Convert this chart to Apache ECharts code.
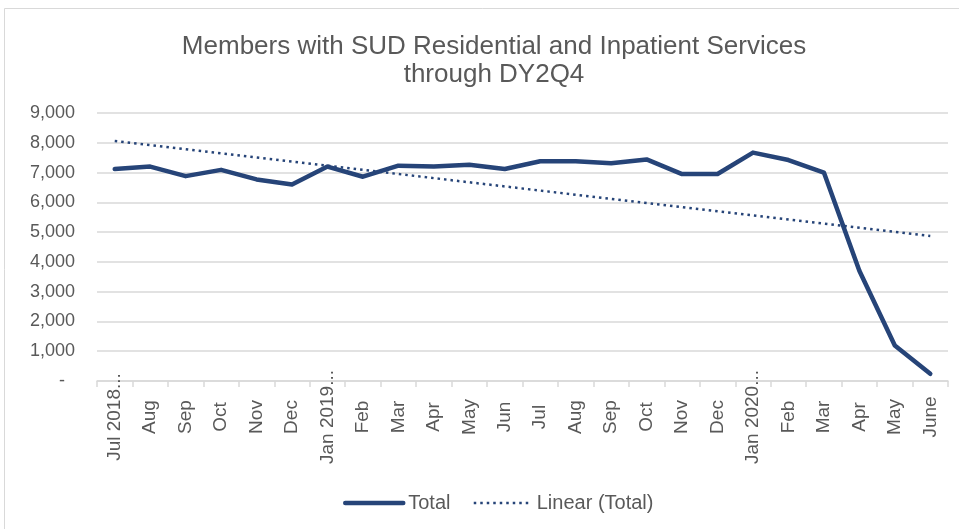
<!DOCTYPE html>
<html>
<head>
<meta charset="utf-8">
<script src="https://cdn.jsdelivr.net/npm/echarts@6/dist/echarts.min.js"></script>
<style>
  html, body { margin: 0; padding: 0; background: #fff; }
  #chart { width: 959px; height: 529px; }
</style>
</head>
<body>
<div id="chart"></div>
<script>
const months = ['Jul 2018...', 'Aug', 'Sep', 'Oct', 'Nov', 'Dec', 'Jan 2019...', 'Feb', 'Mar', 'Apr', 'May', 'Jun',
  'Jul', 'Aug', 'Sep', 'Oct', 'Nov', 'Dec', 'Jan 2020...', 'Feb', 'Mar', 'Apr', 'May', 'June']
const total = [7120, 7200, 6880, 7090, 6770, 6600, 7200, 6860, 7230, 7200, 7260, 7120,
  7380, 7380, 7310, 7440, 6950, 6950, 7670, 7420, 7000, 3700, 1190, 240]
// linear trend, start and end values
const trendEnds = [8060, 4870]

const navy = '#264478'
const grey = '#595959'

const myChart = echarts.init(document.getElementById('chart'))
myChart.setOption({
  textStyle: { fontFamily: 'Liberation Sans, Arial, sans-serif' },
  graphic: [{
    type: 'rect',
    shape: { x: 4.5, y: 8.5, width: 960, height: 530 },
    style: { fill: 'none', stroke: '#d9d9d9', lineWidth: 1 },
    silent: true
  }],
  title: {
    text: 'Members with SUD Residential and Inpatient Services\nthrough DY2Q4',
    left: 489,
    textAlign: 'center',
    top: 28,
    textStyle: { fontSize: 26, fontWeight: 'normal', color: grey, lineHeight: 28 }
  },
  legend: {
    top: 488,
    left: 338,
    itemWidth: 58,
    itemHeight: 10,
    itemGap: 22,
    itemStyle: { opacity: 0 },
    textStyle: { fontSize: 20, color: grey },
    data: [
      { name: 'Total', lineStyle: { width: 4.5 } },
      { name: 'Linear (Total)', lineStyle: { width: 2.5 } }
    ]
  },
  grid: { left: 97, right: 11, top: 113, bottom: 148 },
  xAxis: {
    type: 'category',
    data: months,
    boundaryGap: true,
    axisLine: { lineStyle: { color: '#d9d9d9', width: 1.5 } },
    axisTick: { show: true, length: 6, lineStyle: { color: '#d9d9d9', width: 1.5 } },
    axisLabel: {
      rotate: 90, interval: 0, margin: 36, align: 'center', verticalAlign: 'middle',
      fontSize: 19, color: grey
    }
  },
  yAxis: {
    type: 'value',
    min: 0,
    max: 9000,
    interval: 1000,
    axisLine: { show: false },
    axisTick: { show: false },
    splitLine: { lineStyle: { color: '#d9d9d9', width: 1.5 } },
    axisLabel: {
      margin: 22,
      fontSize: 18,
      color: grey,
      formatter: v => v === 0 ? '-  ' : v.toLocaleString('en-US')
    }
  },
  series: [
    {
      name: 'Total',
      type: 'line',
      data: total,
      symbol: 'none',
      lineStyle: { color: navy, width: 4.5, cap: 'round', join: 'round' },
      itemStyle: { color: navy }
    },
    {
      name: 'Linear (Total)',
      type: 'line',
      data: [[0, trendEnds[0]], [months.length - 1, trendEnds[1]]],
      symbol: 'none',
      lineStyle: { color: navy, width: 2.5, type: [2.5, 4] },
      itemStyle: { color: navy }
    }
  ]
})
</script>
</body>
</html>
